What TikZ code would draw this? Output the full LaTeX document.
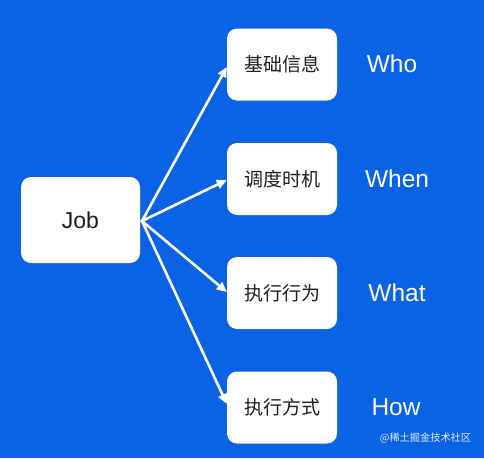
\documentclass[tikz,border=0pt]{standalone}
\usepackage{fontspec}
\setmainfont{Liberation Sans}
\newfontfamily\cjk{Noto Sans CJK SC}
\usetikzlibrary{arrows.meta}
\definecolor{bgblue}{HTML}{0A62E4}
\definecolor{txt}{HTML}{1E1E1E}
\tikzset{
  box/.style={draw=none, fill=white, rounded corners=10pt, minimum width=110pt, minimum height=72pt, inner sep=0pt, text=txt, font=\cjk\fontsize{19}{19}\selectfont},
  jobbox/.style={box, minimum width=119pt, minimum height=86pt, font=\fontsize{23}{23}\selectfont},
  side/.style={text=white, font=\fontsize{24.5}{24.5}\selectfont, inner sep=0pt},
  conn/.style={draw=white, line width=2.6pt, -{Triangle[length=10pt,width=9pt]}, shorten <=-1pt}
}
\begin{document}
\begin{tikzpicture}[x=1pt,y=-1pt]
  \fill[bgblue] (0,0) rectangle (484,458);
  \useasboundingbox (0,0) rectangle (484,458);
  \node[jobbox] (job) at (80.5,220) {Job};
  \node[box] (b1) at (282,64.5) {基础信息};
  \node[box] (b2) at (282,179) {调度时机};
  \node[box] (b3) at (282,293) {执行行为};
  \node[box] (b4) at (282,407.5) {执行方式};
  \node[side] (w1) at (392,64) {Who};
  \node[side] (w2) at (397,179) {When};
  \node[side] (w3) at (397,293) {What};
  \node[side] (w4) at (396,407) {How};
  \coordinate (s) at (142,221);
  \draw[conn] (s) -- (b1.west |- 0,67);
  \draw[conn] (s) -- (b2.west |- 0,180);
  \draw[conn] (s) -- (b3.west |- 0,292);
  \draw[conn] (s) -- (b4.west |- 0,404);
  \node[text=white!88!bgblue, font=\cjk\fontsize{10.2}{10.2}\selectfont, inner sep=0pt] (wm) at (425.5,438) {@稀土掘金技术社区};
\end{tikzpicture}
\end{document}
